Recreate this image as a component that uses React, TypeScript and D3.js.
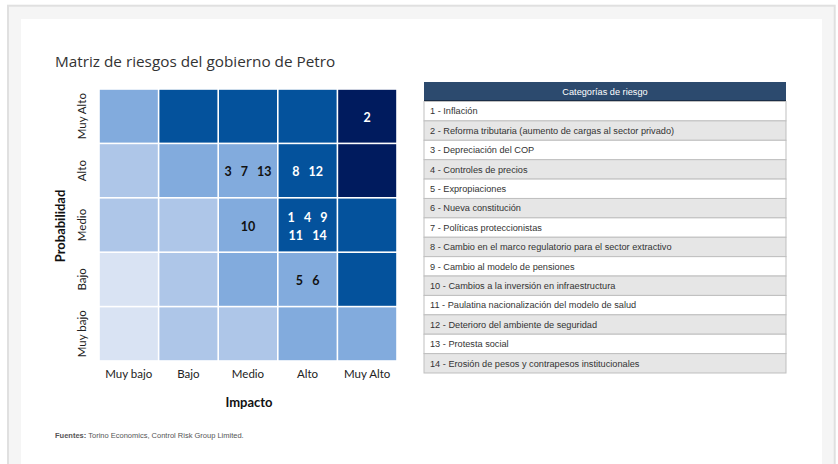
import React from 'react';
import * as d3 from 'd3';

const impactLevels = ['Muy bajo', 'Bajo', 'Medio', 'Alto', 'Muy Alto'];
const probLevels = ['Muy Alto', 'Alto', 'Medio', 'Bajo', 'Muy bajo'];
// severity level per cell: rows follow probLevels (top to bottom), columns follow impactLevels
const severityGrid = [
  [2, 3, 3, 3, 4],
  [1, 2, 2, 3, 4],
  [1, 1, 2, 3, 3],
  [0, 1, 2, 2, 3],
  [0, 1, 1, 2, 2],
];
const severityColors = ['#d9e3f3', '#aec6e8', '#82abdd', '#04529c', '#001b5e'];

const riskIds = [1, 2, 3, 4, 5, 6, 7, 8, 9, 10, 11, 12, 13, 14];
const riskNames = [
  'Inflación',
  'Reforma tributaria (aumento de cargas al sector privado)',
  'Depreciación del COP',
  'Controles de precios',
  'Expropiaciones',
  'Nueva constitución',
  'Políticas proteccionistas',
  'Cambio en el marco regulatorio para el sector extractivo',
  'Cambio al modelo de pensiones',
  'Cambios a la inversión en infraestructura',
  'Paulatina nacionalización del modelo de salud',
  'Deterioro del ambiente de seguridad',
  'Protesta social',
  'Erosión de pesos y contrapesos institucionales',
];
const riskImpact = ['Alto', 'Muy Alto', 'Medio', 'Alto', 'Alto', 'Alto', 'Medio', 'Alto', 'Alto', 'Medio', 'Alto', 'Alto', 'Medio', 'Alto'];
const riskProb = ['Medio', 'Muy Alto', 'Alto', 'Medio', 'Bajo', 'Bajo', 'Alto', 'Alto', 'Medio', 'Medio', 'Medio', 'Alto', 'Alto', 'Medio'];

const title = 'Matriz de riesgos del gobierno de Petro';
const tableTitle = 'Categorías de riesgo';
const xTitle = 'Impacto';
const yTitle = 'Probabilidad';
const sourceLabel = 'Fuentes:';
const sourceText = ' Torino Economics, Control Risk Group Limited.';

const HM = "Lato, 'Open Sans', sans-serif";
const AR = "'Liberation Sans', Arial, sans-serif";

export default function App() {
  const x = d3.scaleBand<string>().domain(impactLevels).range([99, 397]);
  const y = d3.scaleBand<string>().domain(probLevels).range([89, 361]);
  const bw = x.bandwidth();
  const bh = y.bandwidth();

  const cells: { imp: string; prob: string; sev: number }[] = [];
  probLevels.forEach((p, ri) =>
    impactLevels.forEach((im, ci) => cells.push({ imp: im, prob: p, sev: severityGrid[ri][ci] }))
  );

  const groups = d3.group(
    riskIds.map((id, i) => ({ id, imp: riskImpact[i], prob: riskProb[i] })),
    (d) => d.imp + '|' + d.prob
  );

  const rowY = d3.scaleBand<number>().domain(riskIds).range([101.5, 373]);
  const tX0 = 424;
  const tX1 = 786;
  const sp = '\u00a0\u00a0\u00a0';

  return (
    <svg width={838} height={464} style={{ position: 'absolute', left: 0, top: 0 }}>
      <rect x={0} y={0} width={838} height={464} fill="#ffffff" />
      <rect x={8} y={5.7} width={826.7} height={480} fill="#f5f5f5" stroke="#e0e0e0" strokeWidth={2} />
      <rect x={21} y={19} width={801} height={460} fill="#ffffff" />

      <text x={55} y={67} fontFamily="'Open Sans', sans-serif" fontSize={15.3} fill="#333">{title}</text>

      {cells.map((c, i) => (
        <rect key={i} x={x(c.imp)! + 0.8} y={y(c.prob)! + 0.8} width={bw - 1.6} height={bh - 1.6} fill={severityColors[c.sev]} />
      ))}

      {cells.map((c, i) => {
        const g = groups.get(c.imp + '|' + c.prob);
        if (!g) return null;
        const ids = g.map((d) => d.id);
        const lines: number[][] = [];
        for (let k = 0; k < ids.length; k += 3) lines.push(ids.slice(k, k + 3));
        const cx = x(c.imp)! + bw / 2;
        const cy = y(c.prob)! + bh / 2 + 1.5;
        const lh = 18.3;
        return lines.map((ln, li) => (
          <text
            key={i + '-' + li}
            x={cx}
            y={cy + (li - (lines.length - 1) / 2) * lh}
            dy="0.35em"
            textAnchor="middle"
            fontFamily={HM}
            fontWeight="bold"
            fontSize={12.5}
            fill={c.sev >= 3 ? '#ffffff' : '#111111'}
          >
            {ln.join(sp)}
          </text>
        ));
      })}

      {impactLevels.map((l) => (
        <text key={l} x={x(l)! + bw / 2} y={378} textAnchor="middle" fontFamily={HM} fontSize={11.5} fill="#222">{l}</text>
      ))}
      {probLevels.map((l) => (
        <text key={l} transform={`translate(86,${y(l)! + bh / 2}) rotate(-90)`} textAnchor="middle" fontFamily={HM} fontSize={11.5} fill="#222">{l}</text>
      ))}
      <text x={249} y={407} textAnchor="middle" fontFamily={HM} fontWeight="bold" fontSize={13} fill="#111">{xTitle}</text>
      <text transform={`translate(65,226) rotate(-90)`} textAnchor="middle" fontFamily={HM} fontWeight="bold" fontSize={13} fill="#111">{yTitle}</text>

      <rect x={tX0} y={82} width={tX1 - tX0} height={19.5} fill="#2c4a6e" />
      <line x1={tX0} x2={tX1} y1={101} y2={101} stroke="#15243a" strokeWidth={1.5} />
      <text x={(tX0 + tX1) / 2} y={92} dy="0.35em" textAnchor="middle" fontFamily={AR} fontSize={9.2} fill="#ffffff">{tableTitle}</text>
      {riskIds.map((id, i) => (
        <g key={id}>
          <rect x={tX0} y={rowY(id)!} width={tX1 - tX0} height={rowY.bandwidth()} fill={i % 2 === 0 ? '#ffffff' : '#e6e6e6'} stroke="#bfbfbf" strokeWidth={1} />
          <text x={430} y={rowY(id)! + rowY.bandwidth() / 2} dy="0.35em" fontFamily={AR} fontSize={9.2} fill="#333">{`${id} - ${riskNames[i]}`}</text>
        </g>
      ))}

      <text x={55} y={438} fontFamily={AR} fontSize={7.5} fill="#555">
        <tspan fontWeight="bold">{sourceLabel}</tspan>
        <tspan>{sourceText}</tspan>
      </text>
    </svg>
  );
}
